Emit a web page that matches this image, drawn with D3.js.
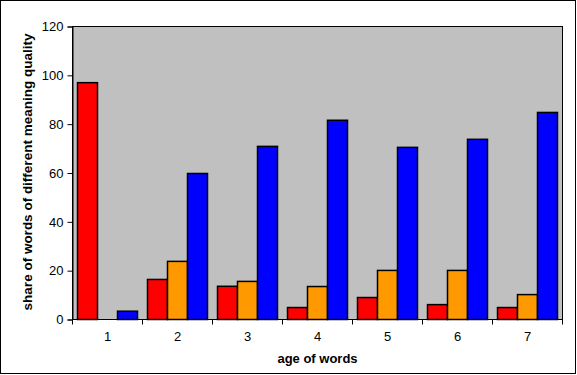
<!DOCTYPE html>
<html>
<head>
<meta charset="utf-8">
<script src="https://cdn.jsdelivr.net/npm/d3@7"></script>
<style>
  body { margin: 0; background: #fff; }
  svg { display: block; font-family: "Liberation Sans", Arial, sans-serif; }
</style>
</head>
<body>
<svg id="chart" width="577" height="375"></svg>
<script>
// age of words vs. meaning quality

var ages = ["1", "2", "3", "4", "5", "6", "7"];
var seriesNames = ["a", "b", "c"];
var seriesColors = ["#FF0000", "#FF9900", "#0000FF"];
var redValues = [97, 16.4, 13.6, 4.9, 9, 6.1, 4.9];
var orangeValues = [0, 23.8, 15.6, 13.5, 20.1, 20.1, 10.2];
var blueValues = [3.4, 59.8, 70.9, 81.6, 70.5, 73.8, 84.8];
var yTicks = [0, 20, 40, 60, 80, 100, 120];

var values = [redValues, orangeValues, blueValues];

var svg = d3.select("#chart");
// plot area bounds (note: "top" is reserved on window, so use prefixed names)
var plotLeft = 72.5, plotRight = 562.5, plotTop = 26.5, plotBottom = 319.5;

// outer frame
svg.append("rect")
  .attr("x", 0.5).attr("y", 0.5)
  .attr("width", 575).attr("height", 373)
  .attr("fill", "#fff").attr("stroke", "#000").attr("stroke-width", 1);

var x = d3.scaleBand().domain(ages).range([plotLeft, plotRight]).paddingInner(0).paddingOuter(0);
var xs = d3.scaleBand().domain(seriesNames).range([5, x.bandwidth() - 5]);
var y = d3.scaleLinear().domain([0, 120]).range([plotBottom, plotTop]);

// plot area
svg.append("rect")
  .attr("x", plotLeft).attr("y", plotTop)
  .attr("width", plotRight - plotLeft).attr("height", plotBottom - plotTop)
  .attr("fill", "#C0C0C0").attr("stroke", "#000").attr("stroke-width", 1);

// bars
var groups = svg.selectAll("g.age")
  .data(ages)
  .enter().append("g")
  .attr("class", "age")
  .attr("transform", function (d) { return "translate(" + x(d) + ",0)"; });

groups.selectAll("rect")
  .data(function (d, i) {
    return seriesNames.map(function (s, j) { return { s: s, v: values[j][i], c: seriesColors[j] }; });
  })
  .enter().append("rect")
  .filter(function (d) { return d.v > 0; })
  .attr("x", function (d) { return xs(d.s); })
  .attr("y", function (d) { return y(d.v); })
  .attr("width", xs.bandwidth())
  .attr("height", function (d) { return y(0) - y(d.v); })
  .attr("fill", function (d) { return d.c; })
  .attr("stroke", "#000").attr("stroke-width", 1.5);

// y axis
var yAxis = svg.append("g")
  .attr("transform", "translate(" + plotLeft + ",0)")
  .call(d3.axisLeft(y).tickValues(yTicks).tickSize(5).tickPadding(4));
yAxis.select(".domain").attr("stroke", "#000");
yAxis.selectAll("text").attr("font-size", 13).attr("fill", "#000")
  .attr("font-family", "Liberation Sans, Arial, sans-serif");

// x axis: ticks at category boundaries
var xAxis = svg.append("g").attr("transform", "translate(0," + plotBottom + ")");
xAxis.append("line").attr("x1", plotLeft).attr("x2", plotRight).attr("stroke", "#000");
xAxis.selectAll("line.tick")
  .data(ages.concat(["end"]))
  .enter().append("line")
  .attr("class", "tick")
  .attr("x1", function (d, i) { return plotLeft + i * x.bandwidth(); })
  .attr("x2", function (d, i) { return plotLeft + i * x.bandwidth(); })
  .attr("y1", 0).attr("y2", 5)
  .attr("stroke", "#000");
xAxis.selectAll("text")
  .data(ages)
  .enter().append("text")
  .attr("x", function (d) { return x(d) + x.bandwidth() / 2; })
  .attr("y", 21)
  .attr("text-anchor", "middle")
  .attr("font-size", 13)
  .text(function (d) { return d; });

// axis titles
svg.append("text")
  .attr("x", (plotLeft + plotRight) / 2).attr("y", 363)
  .attr("text-anchor", "middle")
  .attr("font-size", 13).attr("font-weight", "bold")
  .text("age of words");

svg.append("text")
  .attr("transform", "translate(32," + ((plotTop + plotBottom) / 2 - 1) + ") rotate(-90)")
  .attr("text-anchor", "middle")
  .attr("font-size", 13.5).attr("font-weight", "bold")
  .text("share of words of different meaning quality");
</script>
</body>
</html>
